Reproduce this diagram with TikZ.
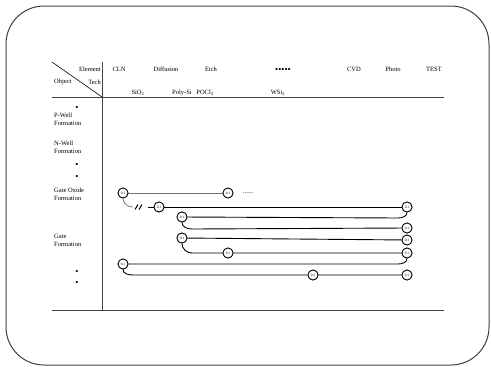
\documentclass[tikz,border=0pt]{standalone}
\usepackage{fontspec}
\setmainfont{Liberation Serif}
\begin{document}
\begin{tikzpicture}[x=1pt,y=-1pt,
  lbl/.style={font=\fontsize{6.5}{7}\selectfont, inner sep=0pt},
  rowlbl/.style={font=\fontsize{6.5}{7.8}\selectfont, inner sep=0pt, anchor=west, align=left},
  dotlbl/.style={font=\fontsize{9}{9}\selectfont, inner sep=0pt},
  stepc/.style={circle, draw, line width=0.8pt, minimum size=10pt, inner sep=0pt, fill=white, font=\fontsize{3.5}{3.5}\selectfont},
  flow/.style={line width=0.9pt, black},
  thinflow/.style={line width=0.7pt, black!55},
  rule/.style={line width=0.9pt, black!75}]
\useasboundingbox (0,0) rectangle (491,367);
\draw[line width=1pt, black!75, rounded corners=38pt] (6,6) rectangle (489,365);

% table rules
\coordinate (tl) at (52,62);
\coordinate (cross) at (102,97);
\coordinate (hl) at (52,97);
\coordinate (hr) at (444,97);
\coordinate (vtop) at (102,62);
\coordinate (vbot) at (102,310);
\coordinate (bl) at (52,310);
\coordinate (br) at (444,310);
\draw[rule] (hl) -- (hr);
\draw[rule] (vtop) -- (vbot);
\draw[rule] (bl) -- (br);
\draw[line width=0.6pt] (tl) -- (cross);

% header
\node[lbl, anchor=east] (elem) at (101,69) {Element};
\node[lbl, anchor=west] (obj) at (54,82) {Object};
\node[lbl, anchor=east] (tech) at (101,82) {Tech};
\node[lbl] (cln) at (119,69) {CLN};
\node[lbl] (diff) at (166,69) {Diffusion};
\node[lbl] (etch) at (211,69) {Etch};
\node[dotlbl] (dots) at (283,70) {\textbullet\textbullet\textbullet\textbullet\textbullet};
\node[lbl] (cvd) at (354,69) {CVD};
\node[lbl] (photo) at (393,69) {Photo};
\node[lbl] (test) at (434,69) {TEST};
\node[lbl] (sio) at (138,93) {SiO\textsubscript{2}};
\node[lbl] (poly) at (182,93) {Poly-Si};
\node[lbl] (pocl) at (205,93) {POCl\textsubscript{3}};
\node[lbl] (wsi) at (278,93) {WSi\textsubscript{2}};

% row labels
\node[dotlbl] (d1) at (77,108) {\textbullet};
\node[rowlbl] (pw) at (54,119) {P-Well\\Formation};
\node[rowlbl] (nw) at (54,147) {N-Well\\Formation};
\node[dotlbl] (d2) at (77,165) {\textbullet};
\node[dotlbl] (d3) at (77,177) {\textbullet};
\node[rowlbl] (go) at (54,194) {Gate Oxide\\Formation};
\node[rowlbl] (gf) at (54,240) {Gate\\Formation};
\node[dotlbl] (d4) at (77,272) {\textbullet};
\node[dotlbl] (d5) at (77,283) {\textbullet};

% circles
\node[stepc] (L1) at (123,193) {0.1};
\node[stepc] (L2) at (159,207) {0.1};
\node[stepc] (L3) at (182,217) {0.1};
\node[stepc] (L4) at (182,238) {0.1};
\node[stepc] (L5) at (123,264) {0.1};
\node[stepc] (M1) at (228,193) {0.1};
\node[stepc] (M2) at (228,253) {0.1};
\node[stepc] (M3) at (313,275) {0.1};
\node[stepc] (R1) at (407,207) {0.1};
\node[stepc] (R2) at (407,228) {0.1};
\node[stepc] (R3) at (407,240) {0.1};
\node[stepc] (R4) at (407,253) {0.1};
\node[stepc] (R5) at (407,275) {0.1};
\node[lbl, anchor=west] (more) at (243,193) {......};

% connectors
\draw[thinflow] (L1) -- (M1);
\coordinate (b1) at (133,207);
\coordinate (b2) at (148,207);
\draw[thinflow] (L1.south) to[out=-90,in=180] (b1);
\draw[line width=1pt] (135,209.5) -- (138,204.5) (139,209.5) -- (142,204.5);
\draw[flow] (b2) -- (L2);
\draw[flow] (L2) -- (R1);
\coordinate (k1) at (398,218);
\draw[flow] (L3) -- (k1) to[out=0,in=-90] (R1.south);
\coordinate (k2) at (192,229);
\draw[flow] (L3.south) to[out=-90,in=180] (k2) -- (R2);
\draw[flow] (L4) -- (R3);
\coordinate (k3) at (192,253);
\draw[flow] (L4.south) to[out=-90,in=180] (k3) -- (M2) -- (R4);
\coordinate (k4) at (398,264);
\draw[flow] (L5) -- (k4) to[out=0,in=-90] (R4.south);
\coordinate (k5) at (133,275);
\draw[flow] (L5.south) to[out=-90,in=180] (k5) -- (M3) -- (R5);
% redraw circles on top
\foreach \c in {L1,L2,L3,L4,L5,M1,M2,M3,R1,R2,R3,R4,R5}
  \node[stepc] at (\c) {0.1};
\end{tikzpicture}
\end{document}
